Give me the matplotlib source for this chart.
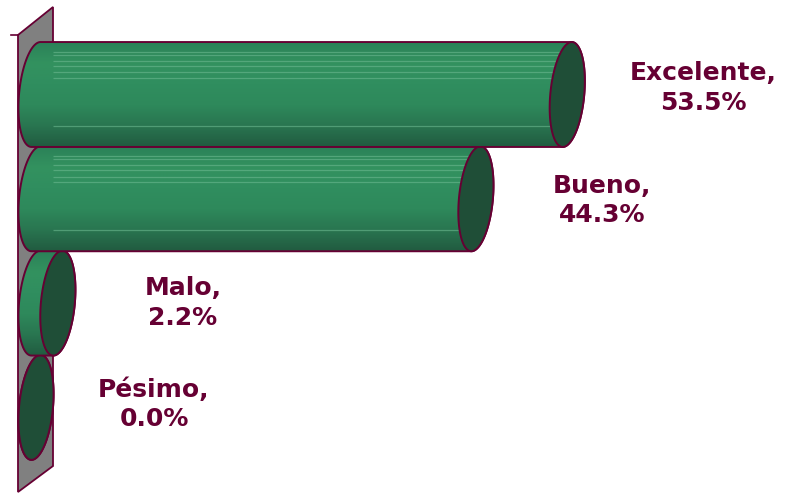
import numpy as np
import matplotlib
matplotlib.use("Agg")
import matplotlib.pyplot as plt
from matplotlib.patches import Polygon
from matplotlib.colors import LinearSegmentedColormap

# Survey ratings (percent of responses)
categories = ["Excelente", "Bueno", "Malo", "Pésimo"]
values = [53.5, 44.3, 2.2, 0.0]
labels = ["Excelente,\n53.5%", "Bueno,\n44.3%", "Malo,\n2.2%", "Pésimo,\n0.0%"]

W, H, DPI = 787, 493, 100
PX_PER_PCT = 9.93          # horizontal scale
ORIGIN_PX = 36             # pixel position of 0 %
ROW_PX = 104.3             # vertical spacing of bars
FIRST_ROW_PX = 94.5

# label placement relative to each bar end (pixels)
label_dx = [136, 126, 125, 118]
label_dy = [-6.5, 1.5, 0.0, -3.0]

EDGE = "#660033"
CAP = "#1f4e37"
WALL = "#808080"

fig = plt.figure(figsize=(W / DPI, H / DPI), dpi=DPI)

# background axes in pixel units for the side wall
bg = fig.add_axes([0, 0, 1, 1])
bg.set_xlim(0, W)
bg.set_ylim(H, 0)
bg.axis("off")
bg.add_patch(Polygon([(18, 35), (53, 7), (53, 466), (18, 492)], closed=True,
                     facecolor=WALL, edgecolor=EDGE, lw=1.3, zorder=1))
bg.plot([11, 18], [35, 35], color=EDGE, lw=1.2, zorder=1)

# data axes: x in percent, y in category rows
ax = fig.add_axes([0, 0, 1, 1], facecolor="none")
ax.set_xlim(-ORIGIN_PX / PX_PER_PCT, (W - ORIGIN_PX) / PX_PER_PCT)
ax.set_ylim((H - FIRST_ROW_PX) / ROW_PX, -FIRST_ROW_PX / ROW_PX)
ax.axis("off")

a = 17 / PX_PER_PCT        # cap half width (percent units)
b = 0.503                  # cap half height (row units)
sh = 4.5 / PX_PER_PCT      # slant of the caps


def ell(cx, cy, t):
    return np.column_stack([cx + a * np.cos(t) - sh * np.sin(t), cy + b * np.sin(t)])


body_cmap = LinearSegmentedColormap.from_list(
    "body", ["#2b8158", "#33925f", "#308e5f", "#2e895b", "#297550", "#215b40"])
stripe_fracs = [0.095, 0.12, 0.18, 0.23, 0.29, 0.34, 0.80]

for i in range(len(categories) - 1, -1, -1):
    v = values[i]
    cy = i
    z = 3 + (len(categories) - i)
    # cylinder body
    back = ell(0, cy, np.linspace(-np.pi / 2, -3 * np.pi / 2, 60))
    front = ell(v, cy, np.linspace(np.pi / 2, -np.pi / 2, 60))
    body_pts = np.vstack([back, front])
    body = Polygon(body_pts, closed=True, facecolor="none", edgecolor=EDGE,
                   lw=1.4, zorder=z + 0.3)
    ax.add_patch(body)
    grad = np.linspace(0, 1, 200).reshape(-1, 1)
    im = ax.imshow(grad, cmap=body_cmap, aspect="auto",
                   extent=[-a - sh, v + a + sh, cy + b, cy - b],
                   zorder=z, interpolation="bilinear")
    clip = Polygon(body_pts, closed=True, transform=ax.transData)
    im.set_clip_path(clip)
    # faint highlight streaks along the body
    if v > a:
        for f in stripe_fracs:
            yy = cy - b + 2 * b * f
            ln, = ax.plot([a, v], [yy, yy], color="#6cb890", lw=0.9,
                          alpha=0.6, zorder=z + 0.1, solid_capstyle="butt")
            ln.set_clip_path(clip)
    # end cap
    cap = Polygon(ell(v, cy, np.linspace(0, 2 * np.pi, 120)), closed=True,
                  facecolor=CAP, edgecolor=EDGE, lw=1.4, zorder=z + 0.5)
    ax.add_patch(cap)
    # value label
    ax.text(v + label_dx[i] / PX_PER_PCT, cy + label_dy[i] / ROW_PX, labels[i],
            ha="center", va="center", fontsize=18, fontweight="bold",
            color=EDGE, family="DejaVu Sans", linespacing=1.28, zorder=20)

fig.savefig("out.png", dpi=DPI)
